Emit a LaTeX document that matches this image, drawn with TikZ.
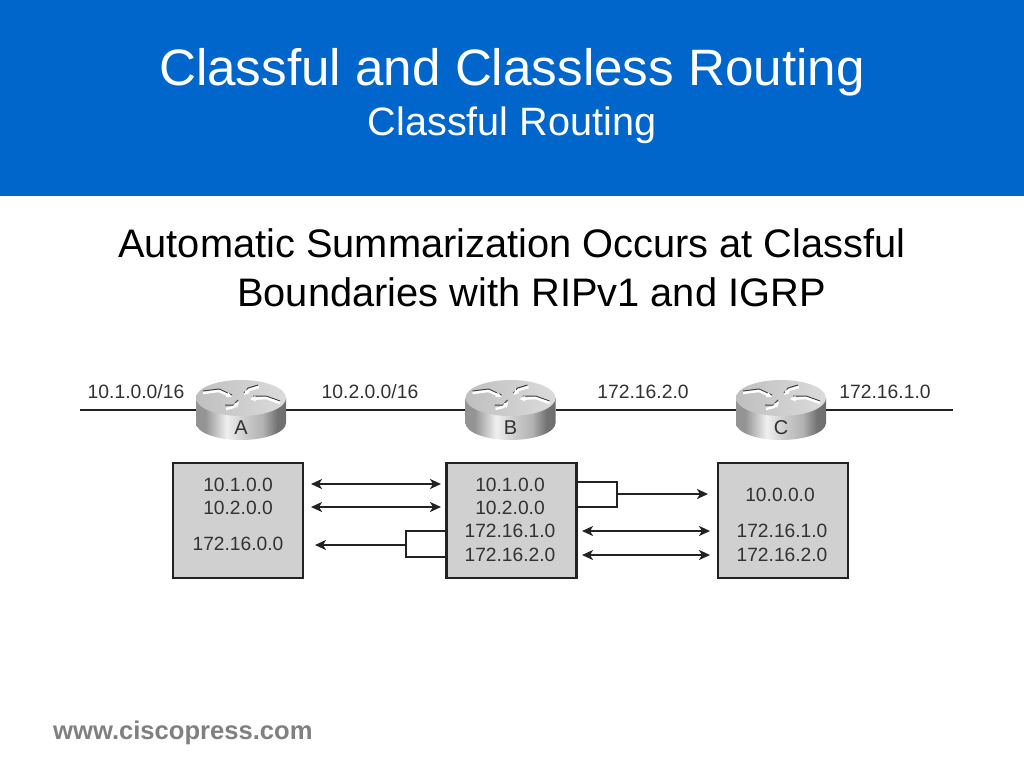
\documentclass[tikz,border=0pt]{standalone}
\usepackage{fontspec}
\setmainfont{Liberation Sans}
\usetikzlibrary{arrows.meta}
\definecolor{banner}{RGB}{0,102,204}
\definecolor{boxgray}{RGB}{208,208,208}
\definecolor{ink}{RGB}{34,34,34}
\definecolor{labelink}{RGB}{50,50,50}
\pgfdeclarehorizontalshading{routerside}{100bp}{
 color(0bp)=(black!42); color(30bp)=(black!42); color(42bp)=(black!6); color(52bp)=(black!20);
 color(62bp)=(black!30); color(70bp)=(black!55); color(100bp)=(black!68)}
\tikzset{
 x=1pt,y=-1pt,
 heading/.style={text=white,inner sep=0,anchor=base,font=\fontsize{51.2}{51.2}\selectfont},
 subheading/.style={text=white,inner sep=0,anchor=base,font=\fontsize{39.6}{39.6}\selectfont},
 bodytext/.style={text=black,inner sep=0,anchor=base west,font=\fontsize{39.8}{39.8}\selectfont},
 footer/.style={text=black!50,inner sep=0,anchor=base west,font=\bfseries\fontsize{25.6}{25.6}\selectfont},
 netlabel/.style={text=labelink,inner sep=0,anchor=base,font=\fontsize{19.3}{19.3}\selectfont},
 tablelabel/.style={text=labelink,inner sep=0,anchor=base,font=\fontsize{19.2}{19.2}\selectfont},
 routerletter/.style={text=labelink,inner sep=0,anchor=base,font=\fontsize{20}{20}\selectfont},
 tablebox/.style={draw=ink,line width=2.2pt,fill=boxgray,minimum width=130pt,minimum height=115pt,inner sep=0},
 routerbody/.style={minimum width=90pt,minimum height=30pt,inner sep=0},
 link/.style={draw=ink,line width=2pt},
 flow/.style={draw=ink,line width=1.9pt,-{Stealth[length=11pt,width=10pt,inset=3pt]}},
 dualflow/.style={draw=ink,line width=1.9pt,{Stealth[length=11pt,width=10pt,inset=3pt]}-{Stealth[length=11pt,width=10pt,inset=3pt]}},
 bracket/.style={draw=ink,line width=1.9pt},
 routersym/.style={white,line width=2.4pt,-{Stealth[length=6pt,width=6pt]}},
 routersymshadow/.style={black!75,line width=1pt},
}
\newcommand{\routershape}[3]{%
 \begin{scope}[shift={(#1,398)}]
  \path[shading=routerside] (-45,0) -- (-45,25) arc[start angle=180,end angle=0,x radius=45,y radius=17] -- (45,0) -- cycle;
  \path[left color=black!25,right color=black!14] (0,0) ellipse[x radius=45,y radius=18];
  \draw[routersymshadow] (-38,-7) -- (-22,-9) -- (-9,-3);
  \draw[routersym] (-38,-5) -- (-22,-7) -- (-9,-1);
  \draw[routersymshadow] (17,-13) -- (7,-10) -- (3,-5);
  \draw[routersym] (18,-11) -- (8,-8) -- (3,-3);
  \draw[routersymshadow] (39,3) -- (25,-2) -- (12,-2);
  \draw[routersym] (39,5) -- (25,0) -- (9,1);
  \draw[routersymshadow] (-16,7) -- (-8,7) -- (-3,2);
  \draw[routersym] (-15,11) -- (-7,9) -- (-2,4);
  \node[routerletter] (#2) at (0,36) {#3};
 \end{scope}}
\begin{document}
\begin{tikzpicture}
\useasboundingbox (0,0) rectangle (1024,768);
\fill[white] (0,0) rectangle (1024,768);
\fill[banner] (0,0) rectangle (1024,196);
\node[heading] (title) at (512,85) {Classful and Classless Routing};
\node[subheading] (subtitle) at (512,135) {Classful Routing};
\node[bodytext] (bodya) at (118,257) {Automatic Summarization Occurs at Classful};
\node[bodytext] (bodyb) at (237,306) {Boundaries with RIPv1 and IGRP};
\node[footer] (site) at (53,739) {www.ciscopress.com};

% network line
\node[routerbody] (rA) at (241,410) {};
\node[routerbody] (rB) at (510.5,410) {};
\node[routerbody] (rC) at (781,410) {};
\coordinate (netL) at (80,410);
\coordinate (netR) at (953,410);
\draw[link] (netL) -- (rA.west);
\draw[link] (rA.east) -- (rB.west);
\draw[link] (rB.east) -- (rC.west);
\draw[link] (rC.east) -- (netR);
\routershape{241}{letA}{A}
\routershape{510.5}{letB}{B}
\routershape{781}{letC}{C}

\node[netlabel] (n1) at (136,398) {10.1.0.0/16};
\node[netlabel] (n2) at (370,398) {10.2.0.0/16};
\node[netlabel] (n3) at (643,398) {172.16.2.0};
\node[netlabel] (n4) at (885,398) {172.16.1.0};

% tables
\node[tablebox] (boxA) at (238,520.5) {};
\node[tablebox] (boxB) at (511.5,520.5) {};
\node[tablebox] (boxC) at (783,520.5) {};
\node[tablelabel] (a1) at (238,491) {10.1.0.0};
\node[tablelabel] (a2) at (238,514) {10.2.0.0};
\node[tablelabel] (a3) at (238,550) {172.16.0.0};
\node[tablelabel] (b1) at (510,491) {10.1.0.0};
\node[tablelabel] (b2) at (510,514) {10.2.0.0};
\node[tablelabel] (b3) at (510,537) {172.16.1.0};
\node[tablelabel] (b4) at (510,561) {172.16.2.0};
\node[tablelabel] (c1) at (780,501) {10.0.0.0};
\node[tablelabel] (c2) at (782,537) {172.16.1.0};
\node[tablelabel] (c3) at (782,561) {172.16.2.0};

% endpoints of arrows
\coordinate (ab1l) at (311,484); \coordinate (ab1r) at (441,484);
\coordinate (ab2l) at (311,507); \coordinate (ab2r) at (441,507);
\coordinate (ab3l) at (315,545); \coordinate (brL) at (406,545);
\coordinate (bc3l) at (582,531); \coordinate (bc3r) at (710,531);
\coordinate (bc4l) at (582,555); \coordinate (bc4r) at (710,555);
\coordinate (brR) at (617,494); \coordinate (bc1r) at (708,494);
\draw[dualflow] (ab1l) -- (ab1r);
\draw[dualflow] (ab2l) -- (ab2r);
\draw[dualflow] (bc3l) -- (bc3r);
\draw[dualflow] (bc4l) -- (bc4r);
\draw[flow] (brL) -- (ab3l);
\draw[flow] (brR) -- (bc1r);
\draw[bracket] (boxB.west |- 0,531) -| (brL) |- (boxB.west |- 0,557);
\draw[bracket] (boxB.east |- 0,482) -| (brR) |- (boxB.east |- 0,507);
\end{tikzpicture}
\end{document}
